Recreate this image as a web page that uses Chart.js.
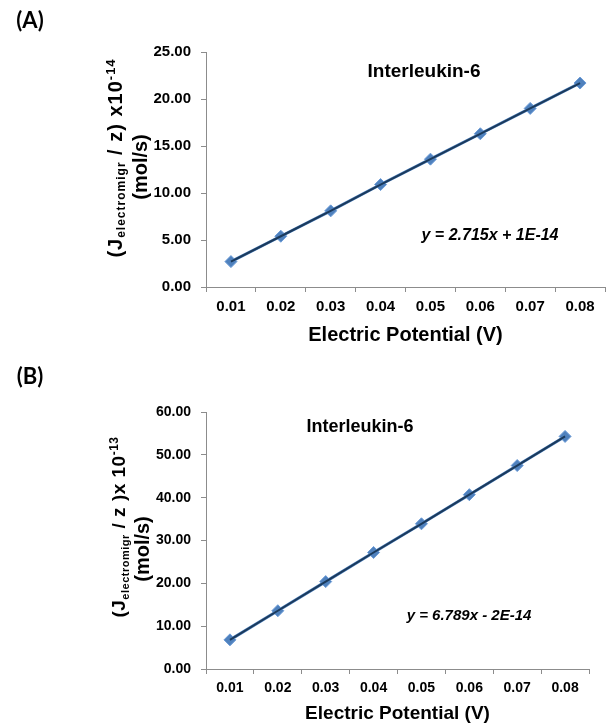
<!DOCTYPE html>
<html>
<head>
<meta charset="utf-8">
<script src="https://cdn.jsdelivr.net/npm/chart.js@4.4.1/dist/chart.umd.min.js"></script>
<style>
  html, body { margin: 0; padding: 0; background: #fff; }
  #wrap { position: relative; width: 612px; height: 727px; }
  canvas { position: absolute; left: 0; }
</style>
</head>
<body>
<div id="wrap">
  <canvas id="chartA" width="612" height="350" style="top:0"></canvas>
  <canvas id="chartB" width="612" height="377" style="top:350px"></canvas>
</div>
<script>
// x categories (electric potential, V)
const potentials = ['0.01', '0.02', '0.03', '0.04', '0.05', '0.06', '0.07', '0.08'];
// flux values
const fluxA = [2.7, 5.4, 8.1, 10.9, 13.6, 16.3, 19.0, 21.7];   // x10^-14 mol/s
const fluxB = [6.8, 13.6, 20.4, 27.2, 33.9, 40.7, 47.5, 54.3]; // x10^-13 mol/s
const yTicksA = [0, 5, 10, 15, 20, 25];
const yTicksB = [0, 10, 20, 30, 40, 50, 60];

const FONT = '"Liberation Sans", Arial, sans-serif';
const AXIS = '#8c8c8c';

// rotated y title with sub/superscript runs: [text, size, shift]
function drawRich(ctx, parts, cx, cy, spacing) {
  ctx.save();
  ctx.translate(cx, cy);
  ctx.rotate(-Math.PI / 2);
  ctx.textBaseline = 'middle';
  ctx.textAlign = 'left';
  ctx.fillStyle = '#000';
  ctx.letterSpacing = (spacing || 0) + 'px';
  let total = 0;
  parts.forEach(p => {
    ctx.font = 'bold ' + p[1] + 'px ' + FONT;
    total += ctx.measureText(p[0]).width;
  });
  let x = -total / 2;
  parts.forEach(p => {
    ctx.font = 'bold ' + p[1] + 'px ' + FONT;
    ctx.fillText(p[0], x, p[2]);
    x += ctx.measureText(p[0]).width;
  });
  ctx.restore();
}

function label(ctx, text, font, x, y) {
  ctx.save();
  ctx.font = font;
  ctx.fillStyle = '#000';
  ctx.textAlign = 'center';
  ctx.textBaseline = 'middle';
  ctx.fillText(text, x, y);
  ctx.restore();
}

function makeChart(id, data, yTicks, opt) {
  const annotate = {
    id: 'annotate',
    afterDraw(chart) {
      const ctx = chart.ctx;
      label(ctx, opt.panel, 'bold 22px Lato, ' + FONT, 30, opt.panelY);
      label(ctx, 'Interleukin-6', 'bold ' + opt.titleSize + 'px ' + FONT, opt.titleX, opt.titleY);
      label(ctx, opt.equation, 'italic bold ' + opt.eqSize + 'px ' + FONT, opt.eqX, opt.eqY);
      drawRich(ctx, opt.yTitle, opt.yTitleX, opt.yTitleY, opt.ySpacing);
      drawRich(ctx, [['(mol/s)', 20, 0]], opt.unitX, opt.unitY, 0);
    }
  };

  return new Chart(document.getElementById(id), {
    type: 'line',
    data: {
      labels: potentials,
      datasets: [
        {
          // fitted trend line, on top
          data: data,
          borderColor: '#1b3a5c',
          borderWidth: 2,
          pointRadius: 0,
          fill: false,
          tension: 0,
          order: 0
        },
        {
          data: data,
          borderColor: '#4f81bd',
          borderWidth: 3,
          pointStyle: 'rectRot',
          pointRadius: 6,
          pointBackgroundColor: '#4f81bd',
          pointBorderColor: '#6a9ad6',
          pointBorderWidth: 1,
          fill: false,
          tension: 0,
          order: 1
        }
      ]
    },
    options: {
      responsive: false,
      animation: false,
      devicePixelRatio: 1,
      layout: { padding: { top: opt.padTop, right: opt.padRight, left: 0, bottom: 0 } },
      plugins: { legend: { display: false }, tooltip: { enabled: false } },
      scales: {
        x: {
          type: 'category',
          offset: true,
          grid: { offset: true, drawOnChartArea: false, drawTicks: true, tickLength: 5, color: AXIS },
          border: { color: AXIS, width: 1 },
          ticks: { color: '#000', padding: 6, font: { family: FONT, size: opt.xTickSize, weight: 'bold' } },
          title: {
            display: true,
            text: 'Electric Potential (V)',
            color: '#000',
            font: { family: FONT, size: opt.xTitleSize, weight: 'bold', lineHeight: 1 },
            padding: { top: 0, bottom: opt.xTitlePad }
          },
          afterFit(scale) { scale.height = opt.xHeight; }
        },
        y: {
          min: yTicks[0],
          max: yTicks[yTicks.length - 1],
          afterBuildTicks(scale) { scale.ticks = yTicks.map(v => ({ value: v })); },
          grid: { drawOnChartArea: false, drawTicks: true, tickLength: 5, color: AXIS },
          border: { color: AXIS, width: 1 },
          ticks: {
            color: '#000',
            padding: 10,
            font: { family: FONT, size: opt.yTickSize, weight: 'bold' },
            callback: v => Number(v).toFixed(2)
          },
          afterFit(scale) { scale.width = 206; }
        }
      }
    },
    plugins: [annotate]
  });
}

makeChart('chartA', fluxA, yTicksA, {
  panel: '(A)', panelY: 21,
  padTop: 52, padRight: 2, xHeight: 63,
  titleX: 424, titleY: 72, titleSize: 19,
  equation: 'y = 2.715x + 1E-14', eqX: 490, eqY: 236, eqSize: 16,
  yTitle: [['(J', 20, 0], ['electromigr', 12, 6], [' / z) x10', 20, 0], ['-14', 13, -5]],
  ySpacing: 1,
  yTitleX: 116, yTitleY: 158, unitX: 141, unitY: 167,
  xTickSize: 15, yTickSize: 15, xTitleSize: 20, xTitlePad: 5
});

makeChart('chartB', fluxB, yTicksB, {
  panel: '(B)', panelY: 27,
  padTop: 62, padRight: 23, xHeight: 58,
  titleX: 360, titleY: 77, titleSize: 18,
  equation: 'y = 6.789x - 2E-14', eqX: 469, eqY: 266, eqSize: 15,
  yTitle: [['(J', 19, 0], ['electromigr', 11, 6], [' / z )x 10', 19, 0], ['-13', 12, -5]],
  ySpacing: 0.5,
  yTitleX: 120, yTitleY: 177, unitX: 143, unitY: 199,
  xTickSize: 14, yTickSize: 14, xTitleSize: 19, xTitlePad: 4
});
</script>
</body>
</html>
